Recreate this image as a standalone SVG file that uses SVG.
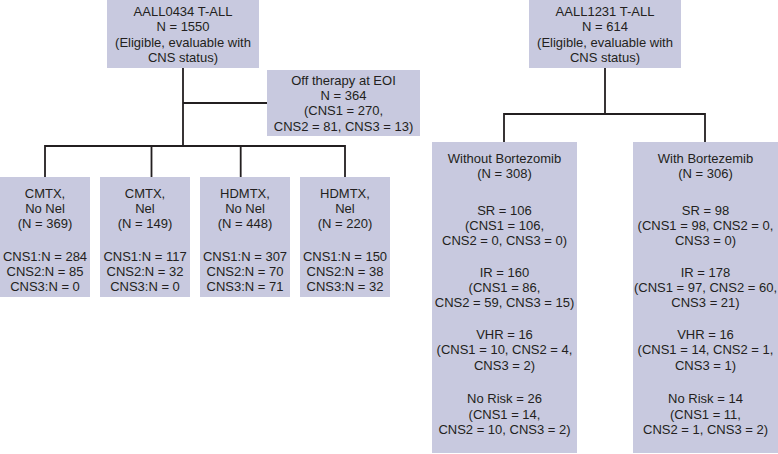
<svg xmlns="http://www.w3.org/2000/svg" width="778" height="454" viewBox="0 0 778 454">
<style>
.box{fill:#c8c9df;}
text{font-family:"Liberation Sans",Arial,sans-serif;font-size:13px;fill:#231f20;text-anchor:middle;}
.conn{stroke:#231f20;stroke-width:1.8;fill:none;}
</style>
<rect width="778" height="454" fill="#ffffff"/>
<g id="connectors">
<path class="conn" d="M183 68V146M183 103H267M45 177V146H345V177M151.5 146V177M240.7 146V177"/>
<path class="conn" d="M605 68V114M504 142V114H705V142"/>
</g>
<g id="aall0434">
<rect class="box" x="107" y="0" width="152" height="68"/>
<text x="183" y="16">AALL0434 T-ALL</text>
<text x="183" y="31.3">N = 1550</text>
<text x="183" y="46.7">(Eligible, evaluable with</text>
<text x="183" y="62">CNS status)</text>
</g>
<g id="offtherapy">
<rect class="box" x="267" y="70" width="153" height="66"/>
<text x="343.5" y="84.7">Off therapy at EOI</text>
<text x="343.5" y="100">N = 364</text>
<text x="343.5" y="115.3">(CNS1 = 270,</text>
<text x="343.5" y="130.6">CNS2 = 81, CNS3 = 13)</text>
</g>
<g id="cmtx-nonel">
<rect class="box" x="0" y="177" width="90" height="120"/>
<text x="45" y="198">CMTX,</text>
<text x="45" y="213">No Nel</text>
<text x="45" y="228">(N = 369)</text>
<text x="45" y="261">CNS1:N = 284</text>
<text x="45" y="276">CNS2:N = 85</text>
<text x="45" y="291">CNS3:N = 0</text>
</g>
<g id="cmtx-nel">
<rect class="box" x="100" y="177" width="90" height="120"/>
<text x="145" y="198">CMTX,</text>
<text x="145" y="213">Nel</text>
<text x="145" y="228">(N = 149)</text>
<text x="145" y="261">CNS1:N = 117</text>
<text x="145" y="276">CNS2:N = 32</text>
<text x="145" y="291">CNS3:N = 0</text>
</g>
<g id="hdmtx-nonel">
<rect class="box" x="200" y="177" width="90" height="120"/>
<text x="245" y="198">HDMTX,</text>
<text x="245" y="213">No Nel</text>
<text x="245" y="228">(N = 448)</text>
<text x="245" y="261">CNS1:N = 307</text>
<text x="245" y="276">CNS2:N = 70</text>
<text x="245" y="291">CNS3:N = 71</text>
</g>
<g id="hdmtx-nel">
<rect class="box" x="300" y="177" width="90" height="120"/>
<text x="345" y="198">HDMTX,</text>
<text x="345" y="213">Nel</text>
<text x="345" y="228">(N = 220)</text>
<text x="345" y="261">CNS1:N = 150</text>
<text x="345" y="276">CNS2:N = 38</text>
<text x="345" y="291">CNS3:N = 32</text>
</g>
<g id="aall1231">
<rect class="box" x="529" y="0" width="152" height="68"/>
<text x="605" y="16">AALL1231 T-ALL</text>
<text x="605" y="31.3">N = 614</text>
<text x="605" y="46.7">(Eligible, evaluable with</text>
<text x="605" y="62">CNS status)</text>
</g>
<g id="without-bortezomib">
<rect class="box" x="432" y="142" width="145" height="311"/>
<text x="504.5" y="163">Without Bortezomib</text>
<text x="504.5" y="178">(N = 308)</text>
<text x="504.5" y="215">SR = 106</text>
<text x="504.5" y="230">(CNS1 = 106,</text>
<text x="504.5" y="245">CNS2 = 0, CNS3 = 0)</text>
<text x="504.5" y="277">IR = 160</text>
<text x="504.5" y="292">(CNS1 = 86,</text>
<text x="504.5" y="307">CNS2 = 59, CNS3 = 15)</text>
<text x="504.5" y="339">VHR = 16</text>
<text x="504.5" y="354">(CNS1 = 10, CNS2 = 4,</text>
<text x="504.5" y="369.5">CNS3 = 2)</text>
<text x="504.5" y="403">No Risk = 26</text>
<text x="504.5" y="418.5">(CNS1 = 14,</text>
<text x="504.5" y="434">CNS2 = 10, CNS3 = 2)</text>
</g>
<g id="with-bortezemib">
<rect class="box" x="633" y="142" width="145" height="311"/>
<text x="705.5" y="163">With Bortezemib</text>
<text x="705.5" y="178">(N = 306)</text>
<text x="705.5" y="215">SR = 98</text>
<text x="705.5" y="230">(CNS1 = 98, CNS2 = 0,</text>
<text x="705.5" y="245">CNS3 = 0)</text>
<text x="705.5" y="277">IR = 178</text>
<text x="705.5" y="292">(CNS1 = 97, CNS2 = 60,</text>
<text x="705.5" y="307">CNS3 = 21)</text>
<text x="705.5" y="339">VHR = 16</text>
<text x="705.5" y="354">(CNS1 = 14, CNS2 = 1,</text>
<text x="705.5" y="369.5">CNS3 = 1)</text>
<text x="705.5" y="403">No Risk = 14</text>
<text x="705.5" y="418.5">(CNS1 = 11,</text>
<text x="705.5" y="434">CNS2 = 1, CNS3 = 2)</text>
</g>
</svg>
